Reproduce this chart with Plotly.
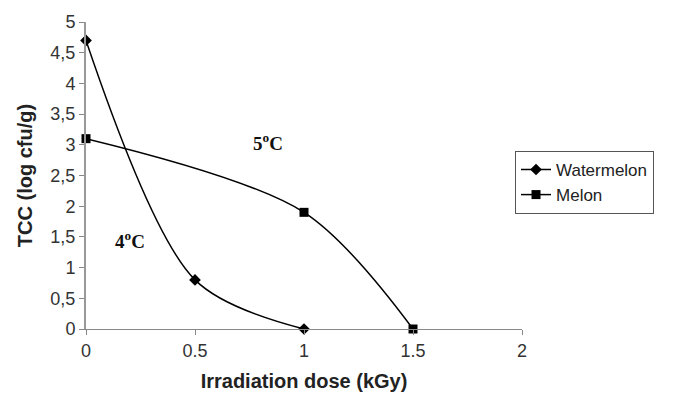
import plotly.graph_objects as go

# Irradiation dose (kGy) and total colony count (log cfu/g)
watermelon_dose = [0, 0.5, 1]
watermelon_tcc = [4.7, 0.8, 0]
melon_dose = [0, 1, 1.5]
melon_tcc = [3.1, 1.9, 0]

y_ticks = [0, 0.5, 1, 1.5, 2, 2.5, 3, 3.5, 4, 4.5, 5]
y_tick_labels = ["0", "0,5", "1", "1,5", "2", "2,5", "3", "3,5", "4", "4,5", "5"]
x_ticks = [0, 0.5, 1, 1.5, 2]
x_tick_labels = ["0", "0.5", "1", "1.5", "2"]

fig = go.Figure()
fig.add_trace(go.Scatter(
    x=watermelon_dose, y=watermelon_tcc, name="Watermelon",
    mode="lines+markers",
    line=dict(color="black", width=1.5, shape="spline", smoothing=0.9),
    marker=dict(symbol="diamond", size=9, color="black"),
    cliponaxis=False,
))
fig.add_trace(go.Scatter(
    x=melon_dose, y=melon_tcc, name="Melon",
    mode="lines+markers",
    line=dict(color="black", width=1.5, shape="spline", smoothing=0.9),
    marker=dict(symbol="square", size=9, color="black"),
    cliponaxis=False,
))

fig.add_annotation(x=0.835, y=3.04, text="<b>5<sup>o</sup>C</b>", showarrow=False,
                   font=dict(family="Liberation Serif", size=19, color="#111"))
fig.add_annotation(x=0.2, y=1.45, text="<b>4<sup>o</sup>C</b>", showarrow=False,
                   font=dict(family="Liberation Serif", size=19, color="#111"))

fig.update_layout(
    width=676, height=404,
    margin=dict(l=86, r=154, t=20, b=75),
    paper_bgcolor="white", plot_bgcolor="white",
    font=dict(family="Liberation Sans, Arial", size=18, color="#333"),
    legend=dict(
        x=0.984, y=0.58, xanchor="left", yanchor="top",
        bordercolor="#555", borderwidth=1,
        font=dict(size=17, color="#222"),
        tracegroupgap=0, itemwidth=30,
    ),
    xaxis=dict(
        range=[0, 2], tickvals=x_ticks, ticktext=x_tick_labels,
        showgrid=False, zeroline=False,
        showline=True, linecolor="#888", linewidth=1,
        ticks="outside", ticklen=5, tickcolor="#888",
        tickfont=dict(size=18, color="#333"),
        title=dict(text="<b>Irradiation dose (kGy)</b>", font=dict(size=20, color="#222"), standoff=14),
    ),
    yaxis=dict(
        range=[0, 5], tickvals=y_ticks, ticktext=y_tick_labels,
        showgrid=False, zeroline=False,
        showline=True, linecolor="#999", linewidth=2,
        ticks="outside", ticklen=5, tickcolor="#888",
        tickfont=dict(size=18, color="#333"),
        title=dict(text="<b>TCC (log cfu/g)</b>", font=dict(size=20, color="#222"), standoff=12),
    ),
)

fig.write_html("out.html")
